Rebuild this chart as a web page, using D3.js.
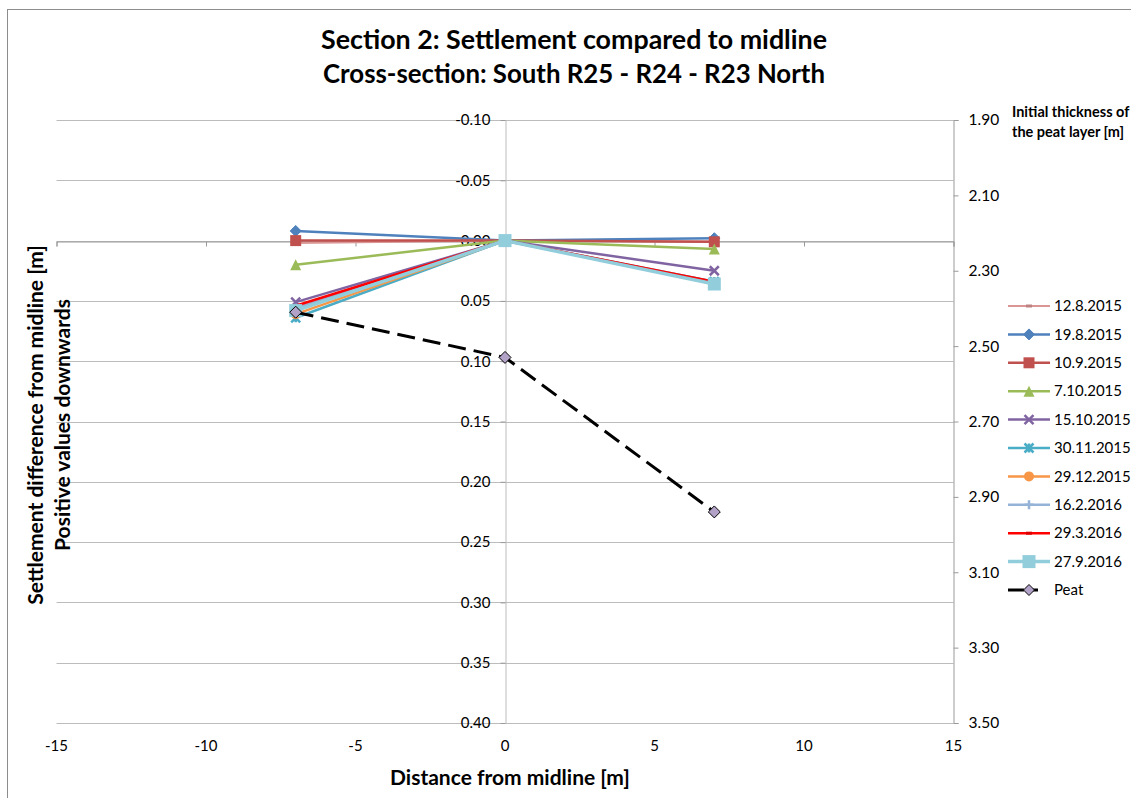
<!DOCTYPE html>
<html>
<head>
<meta charset="utf-8">
<script src="https://cdn.jsdelivr.net/npm/d3@7"></script>
<style>
  body { margin: 0; background: #fff; }
  text { font-family: Lato, "Liberation Sans", sans-serif; fill: #000; }
  .tick-label { font-size: 15px; }
  .bold { font-weight: bold; }
</style>
</head>
<body>
<div id="chart"></div>
<script>
// ---- data ----
const distances = [-7, 0, 7];
const seriesNames = ["12.8.2015", "19.8.2015", "10.9.2015", "7.10.2015", "15.10.2015",
                     "30.11.2015", "29.12.2015", "16.2.2016", "29.3.2016", "27.9.2016"];
const settlementValues = [
    [0.002, 0, 0.001],
    [-0.008, 0, -0.002],
    [0.000, 0, 0.001],
    [0.020, 0, 0.007],
    [0.051, 0, 0.025],
    [0.064, 0, 0.034],
    [0.061, 0, 0.035],
    [0.056, 0, 0.035],
    [0.054, 0, 0.034],
    [0.058, 0, 0.036]
];
const peatThickness = [2.41, 2.53, 2.94];
const xTicks = [-15, -10, -5, 0, 5, 10, 15];
const yTicks = [-0.10, -0.05, 0.00, 0.05, 0.10, 0.15, 0.20, 0.25, 0.30, 0.35, 0.40];
const y2Ticks = [1.90, 2.10, 2.30, 2.50, 2.70, 2.90, 3.10, 3.30, 3.50];

// styles per series
const styles = [
    {color: "#d99694", marker: "dash", size: 6, width: 2},
    {color: "#4f81bd", marker: "diamond", size: 11, width: 2.5},
    {color: "#c0504d", marker: "square", size: 11, width: 2.5},
    {color: "#9bbb59", marker: "triangle", size: 11, width: 2.5},
    {color: "#8064a2", marker: "x", size: 9, width: 2.5},
    {color: "#4bacc6", marker: "star", size: 9, width: 2.5},
    {color: "#f79646", marker: "circle", size: 10, width: 2.5},
    {color: "#95b3d7", marker: "plus", size: 9, width: 2.5},
    {color: "#ff0000", marker: "dash", size: 6, width: 2.5},
    {color: "#92cddc", marker: "square", size: 13, width: 3.5}
];

const W = 1131, H = 798;
const plot = {left: 56.5, right: 953.5, top: 120, bottom: 723};
const fmt2 = d => d.toFixed(2);

const svg = d3.select("#chart").append("svg")
    .attr("width", W)
    .attr("height", H);

svg.append("rect")
    .attr("x", 7.5).attr("y", 9.5)
    .attr("width", 1200).attr("height", 900)
    .attr("fill", "#fff")
    .attr("stroke", "#8c8c8c");

const xScale = d3.scaleLinear().domain([-15, 15]).range([plot.left, plot.right]);
const yScale = d3.scaleLinear().domain([-0.10, 0.40]).range([plot.top, plot.bottom]);
const y2Scale = d3.scaleLinear().domain([1.90, 3.50]).range([plot.top, plot.bottom]);

// gridlines
svg.append("g")
    .selectAll("line")
    .data(yTicks)
    .join("line")
        .attr("x1", plot.left).attr("x2", plot.right)
        .attr("y1", d => Math.round(yScale(d)) + 0.5)
        .attr("y2", d => Math.round(yScale(d)) + 0.5)
        .attr("stroke", "#bcbcbc");

// x axis crossing at y = 0
const xAxisG = svg.append("g")
    .attr("transform", `translate(0,${Math.round(yScale(0)) + 0.5})`)
    .call(d3.axisBottom(xScale).tickValues(xTicks).tickSize(5).tickFormat(""));
xAxisG.select(".domain").attr("stroke", "#9a9a9a");
xAxisG.selectAll(".tick line").attr("stroke", "#9a9a9a");

// x tick labels at the bottom
svg.append("g")
    .selectAll("text")
    .data(xTicks)
    .join("text")
        .attr("class", "tick-label")
        .attr("x", d => xScale(d))
        .attr("y", plot.bottom + 28)
        .attr("text-anchor", "middle")
        .text(d => d);

// left y axis at x = 0
const yAxisG = svg.append("g")
    .attr("transform", `translate(${Math.round(xScale(0)) + 0.5},0)`)
    .call(d3.axisLeft(yScale).tickValues(yTicks).tickSize(5).tickPadding(10).tickFormat(fmt2));
yAxisG.select(".domain").attr("stroke", "#bcbcbc");
yAxisG.selectAll(".tick line").attr("stroke", "#9a9a9a");
yAxisG.selectAll(".tick text")
    .style("font-size", "15px")
    .style("font-family", "Lato, sans-serif")
    .attr("fill", "#000");

// right y axis
const y2AxisG = svg.append("g")
    .attr("transform", `translate(${plot.right},0)`)
    .call(d3.axisRight(y2Scale).tickValues(y2Ticks).tickSize(5).tickPadding(10).tickFormat(fmt2));
y2AxisG.select(".domain").attr("stroke", "#9a9a9a");
y2AxisG.selectAll(".tick line").attr("stroke", "#9a9a9a");
y2AxisG.selectAll(".tick text")
    .style("font-size", "15.5px")
    .style("font-family", "Lato, sans-serif")
    .attr("fill", "#000");

// marker drawing
function drawMarker(g, type, size, color, fill) {
    const h = size / 2;
    if (type === "diamond") {
        g.append("path").attr("d", `M0,${-h}L${h},0L0,${h}L${-h},0Z`).attr("fill", fill || color).attr("stroke", color);
    } else if (type === "square") {
        g.append("rect").attr("x", -h).attr("y", -h).attr("width", size).attr("height", size).attr("fill", color);
    } else if (type === "triangle") {
        g.append("path").attr("d", `M0,${-h}L${h},${h}L${-h},${h}Z`).attr("fill", color);
    } else if (type === "circle") {
        g.append("circle").attr("r", h).attr("fill", color);
    } else if (type === "x" || type === "star" || type === "plus") {
        let d = "";
        if (type !== "plus") d += `M${-h},${-h}L${h},${h}M${-h},${h}L${h},${-h}`;
        if (type === "star") d += `M0,${-h}L0,${h}`;
        if (type === "plus") d += `M${-h},0L${h},0M0,${-h}L0,${h}`;
        g.append("path").attr("d", d).attr("stroke", color).attr("stroke-width", 2.5).attr("fill", "none");
    } else if (type === "dash") {
        g.append("path").attr("d", `M${-h},0L${h},0`).attr("stroke", d3.color(color).darker(0.4)).attr("stroke-width", 3);
    }
}

const line = d3.line()
    .x((d, i) => xScale(distances[i]))
    .y(d => yScale(d));

const seriesG = svg.append("g");
settlementValues.forEach((vals, si) => {
    const st = styles[si];
    seriesG.append("path")
        .datum(vals)
        .attr("fill", "none")
        .attr("stroke", st.color)
        .attr("stroke-width", st.width)
        .attr("d", line);
    vals.forEach((v, i) => {
        const m = seriesG.append("g")
            .attr("transform", `translate(${xScale(distances[i])},${yScale(v)})`);
        drawMarker(m, st.marker, st.size, st.color);
    });
});

// peat thickness on secondary axis
const peatLine = d3.line()
    .x((d, i) => xScale(distances[i]))
    .y(d => y2Scale(d));
svg.append("path")
    .datum(peatThickness)
    .attr("fill", "none")
    .attr("stroke", "#000")
    .attr("stroke-width", 3)
    .attr("stroke-dasharray", "18,8")
    .attr("d", peatLine);
peatThickness.forEach((v, i) => {
    const m = svg.append("g")
        .attr("transform", `translate(${xScale(distances[i])},${y2Scale(v)})`);
    drawMarker(m, "diamond", 12, "#000", "#b3a2c7");
});

// legend
const legend = svg.append("g").attr("transform", "translate(1008,306)");
const legendNames = seriesNames.concat(["Peat"]);
legendNames.forEach((name, i) => {
    const row = legend.append("g").attr("transform", `translate(0,${i * 28.4})`);
    if (i < seriesNames.length) {
        const st = styles[i];
        row.append("line").attr("x1", 0).attr("x2", 42).attr("y1", 0).attr("y2", 0)
            .attr("stroke", st.color).attr("stroke-width", st.width);
        const m = row.append("g").attr("transform", "translate(21,0)");
        drawMarker(m, st.marker, st.size, st.color);
    } else {
        row.append("line").attr("x1", 0).attr("x2", 42).attr("y1", 0).attr("y2", 0)
            .attr("stroke", "#000").attr("stroke-width", 3).attr("stroke-dasharray", "16,6,8");
        const m = row.append("g").attr("transform", "translate(21,0)");
        drawMarker(m, "diamond", 11, "#000", "#b3a2c7");
    }
    row.append("text")
        .attr("class", "tick-label")
        .attr("x", 46)
        .attr("dy", "0.35em")
        .text(name);
});

// titles
svg.append("text")
    .attr("class", "bold")
    .attr("x", 574).attr("y", 49)
    .attr("text-anchor", "middle")
    .style("font-size", "26.8px")
    .text("Section 2: Settlement compared to midline");
svg.append("text")
    .attr("class", "bold")
    .attr("x", 574).attr("y", 83)
    .attr("text-anchor", "middle")
    .style("font-size", "25.8px")
    .text("Cross-section: South R25 - R24 - R23 North");

svg.append("text")
    .attr("class", "bold")
    .attr("x", 510).attr("y", 785)
    .attr("text-anchor", "middle")
    .style("font-size", "21px")
    .text("Distance from midline [m]");

const yTitle = svg.append("text")
    .attr("class", "bold")
    .attr("transform", "translate(43,425) rotate(-90)")
    .attr("text-anchor", "middle")
    .style("font-size", "21px");
yTitle.append("tspan").attr("x", 0).attr("y", 0).text("Settlement difference from midline [m]");
yTitle.append("tspan").attr("x", 0).attr("y", 27).text("Positive values downwards");

const y2Title = svg.append("text")
    .attr("class", "bold")
    .style("font-size", "14.5px");
y2Title.append("tspan").attr("x", 1012).attr("y", 117).text("Initial thickness of");
y2Title.append("tspan").attr("x", 1012).attr("y", 137).text("the peat layer [m]");
</script>
</body>
</html>
